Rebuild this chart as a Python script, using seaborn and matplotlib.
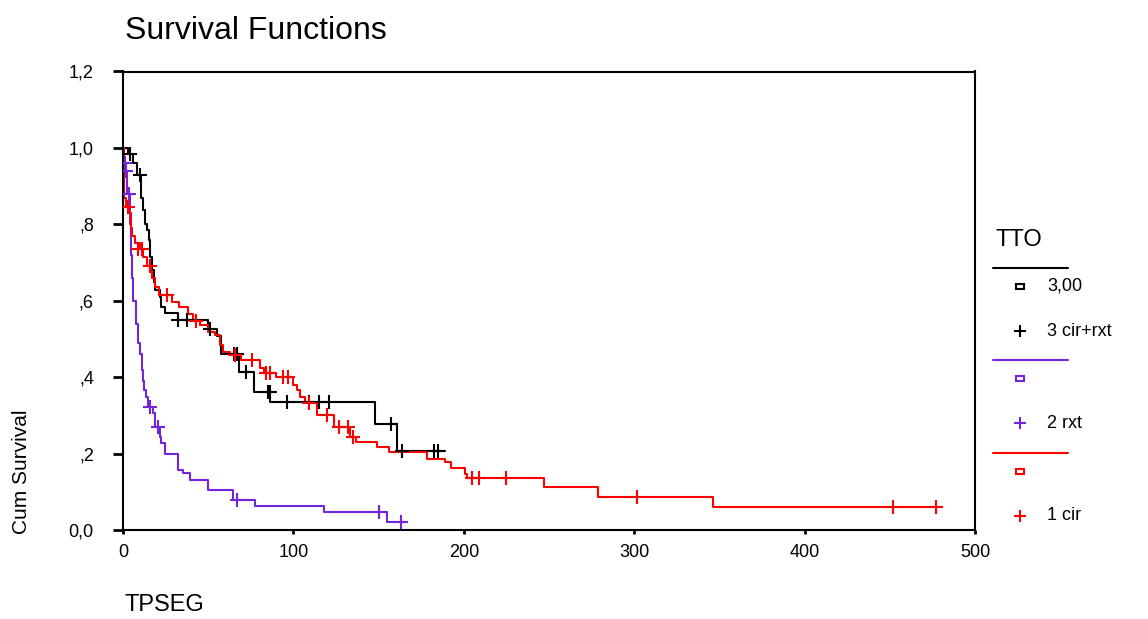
import matplotlib
matplotlib.use('Agg')
import matplotlib.pyplot as plt
import matplotlib.patches as mpatches
from matplotlib.lines import Line2D
import seaborn as sns

# Kaplan-Meier steps (time of event, survival after event)
black_t = [0, 3, 6, 8, 10.5, 11.5, 13, 14, 15, 16, 17, 18, 19, 21.5, 22.5, 24.5, 32,
           50, 55, 57.5, 68, 77, 86.5, 148, 160.6, 189]
black_s = [1.0, 0.985, 0.96, 0.93, 0.87, 0.837, 0.80, 0.785, 0.76, 0.715, 0.68, 0.65,
           0.627, 0.61, 0.583, 0.567, 0.549, 0.525, 0.508, 0.46, 0.413, 0.36, 0.335,
           0.277, 0.207, 0.207]
black_cens_t = [4, 10, 32, 37.5, 51, 65, 67, 72, 85, 86, 96, 109, 115, 121, 157, 164, 182.5, 184.6]
black_cens_s = [0.985, 0.93, 0.549, 0.549, 0.525, 0.46, 0.46, 0.413, 0.36, 0.36, 0.335,
                0.335, 0.335, 0.335, 0.277, 0.207, 0.207, 0.207]

purple_t = [0, 0.5, 1.5, 2.5, 4, 4.5, 5, 6, 7.5, 9, 10, 11, 11.5, 12.5, 13.5, 14.5,
            17.5, 18.5, 21.5, 22.5, 24.5, 32.5, 35.5, 39.5, 50, 64.5, 77.5, 118, 155, 166.5]
purple_s = [1.0, 0.96, 0.94, 0.88, 0.80, 0.72, 0.66, 0.60, 0.54, 0.49, 0.46, 0.42, 0.39,
            0.366, 0.349, 0.322, 0.305, 0.27, 0.244, 0.227, 0.20, 0.157, 0.148, 0.131,
            0.105, 0.078, 0.063, 0.048, 0.022, 0.022]
purple_cens_t = [1, 2, 3.5, 16, 20.8, 67, 150, 163]
purple_cens_s = [0.96, 0.94, 0.88, 0.322, 0.27, 0.078, 0.048, 0.022]

red_t = [0, 0.5, 1.5, 3.5, 4.5, 5.5, 7, 10, 12, 14, 16.5, 17, 19, 21, 29, 33, 38, 41, 45,
         50, 54, 57, 58.5, 63, 69, 80.5, 83, 90, 100, 102, 104, 107, 114, 123.6, 133.5,
         136.6, 149, 156, 178.5, 189, 192.7, 200.7, 202, 247, 279, 346.5, 480]
red_s = [1.0, 0.87, 0.845, 0.83, 0.79, 0.77, 0.75, 0.735, 0.715, 0.69, 0.675, 0.66,
         0.636, 0.614, 0.597, 0.584, 0.566, 0.548, 0.536, 0.518, 0.51, 0.484, 0.466,
         0.457, 0.444, 0.423, 0.41, 0.40, 0.379, 0.366, 0.349, 0.332, 0.30, 0.27, 0.244,
         0.231, 0.218, 0.205, 0.187, 0.177, 0.161, 0.146, 0.135, 0.113, 0.087, 0.061, 0.061]
red_cens_t = [3, 9, 11, 16, 26, 43, 66, 75.5, 84, 86, 94, 97, 109, 120, 127, 132, 135,
              205, 209, 225, 301.6, 452, 477]
red_cens_s = [0.845, 0.735, 0.735, 0.69, 0.614, 0.548, 0.457, 0.444, 0.41, 0.41, 0.40,
              0.40, 0.332, 0.30, 0.27, 0.27, 0.244, 0.135, 0.135, 0.135, 0.087, 0.061, 0.061]

y_ticks = [0.0, 0.2, 0.4, 0.6, 0.8, 1.0, 1.2]
y_tick_labels = ['0,0', ',2', ',4', ',6', ',8', '1,0', '1,2']
x_ticks = [0, 100, 200, 300, 400, 500]

PURPLE = '#7326d9'
RED = '#ff0000'

sns.set_theme(style='white')
plt.rcParams['font.family'] = ['Liberation Sans', 'DejaVu Sans']
plt.rcParams['text.color'] = 'black'
plt.rcParams['xtick.color'] = 'black'
plt.rcParams['ytick.color'] = 'black'

fig = plt.figure(figsize=(11.48, 6.19), dpi=100)
W, H = 1148, 619
ax = fig.add_axes([123 / W, 1 - 530 / H, (975 - 123) / W, (530 - 71.5) / H])

groups = [
    (black_t, black_s, black_cens_t, black_cens_s, 'black'),
    (purple_t, purple_s, purple_cens_t, purple_cens_s, PURPLE),
    (red_t, red_s, red_cens_t, red_cens_s, RED),
]
for t, s, ct, cs, col in groups:
    sns.lineplot(x=t, y=s, drawstyle='steps-post', color=col, lw=1.5,
                 estimator=None, sort=False, ax=ax)
    sns.scatterplot(x=ct, y=cs, marker='+', s=110, color=col, linewidth=1.5, ax=ax, zorder=3)

ax.set_xlim(0, 500)
ax.set_ylim(0, 1.2)
ax.set_xticks(x_ticks)
ax.set_yticks(y_ticks)
ax.set_yticklabels(y_tick_labels)
ax.set_xlabel('')
ax.set_ylabel('')
for sp in ax.spines.values():
    sp.set_color('black')
    sp.set_linewidth(1.5)
ax.tick_params(axis='y', direction='out', length=7, width=2, color='black',
               labelcolor='black', labelsize=13, pad=14, left=True)
ax.tick_params(axis='x', direction='out', length=3, width=2, color='black',
               labelcolor='black', labelsize=13, pad=7, bottom=True)

# texts
fig.text(125 / W, 1 - 31 / H, 'Survival Functions', fontsize=23, va='center', ha='left',
         color='black')
fig.text(125 / W, 1 - 605 / H, 'TPSEG', fontsize=17, va='center', ha='left', color='black')
fig.text(22 / W, 1 - 472 / H, 'Cum Survival', fontsize=15, rotation=90, va='center',
         ha='center', color='black')

# legend drawn by hand (SPSS style)
fig.text(995 / W, 1 - 240 / H, 'TTO', fontsize=17, va='center', ha='left', color='black')
legend_rows = [('black', 268, '3,00', '3 cir+rxt'),
               (PURPLE, 360, '', '2 rxt'),
               (RED, 453, '', '1 cir')]
for col, ly, lab1, lab2 in legend_rows:
    fig.add_artist(Line2D([993 / W, 1068 / W], [1 - ly / H, 1 - ly / H], color=col, lw=1.5))
    ry = ly + 18
    fig.add_artist(mpatches.Rectangle(((1016) / W, 1 - (ry + 2.5) / H), 8 / W, 5 / H,
                                      fill=False, edgecolor=col, lw=1.5))
    py = ly + 63
    fig.add_artist(Line2D([1020 / W], [1 - py / H], marker='+', markersize=9,
                          markeredgewidth=1.5, color=col, linestyle='none'))
    if lab1:
        fig.text(1047 / W, 1 - ry / H, lab1, fontsize=13, va='center', ha='left', color='black')
    fig.text(1047 / W, 1 - py / H, lab2, fontsize=13, va='center', ha='left', color='black')

fig.savefig('out.png', dpi=100)
